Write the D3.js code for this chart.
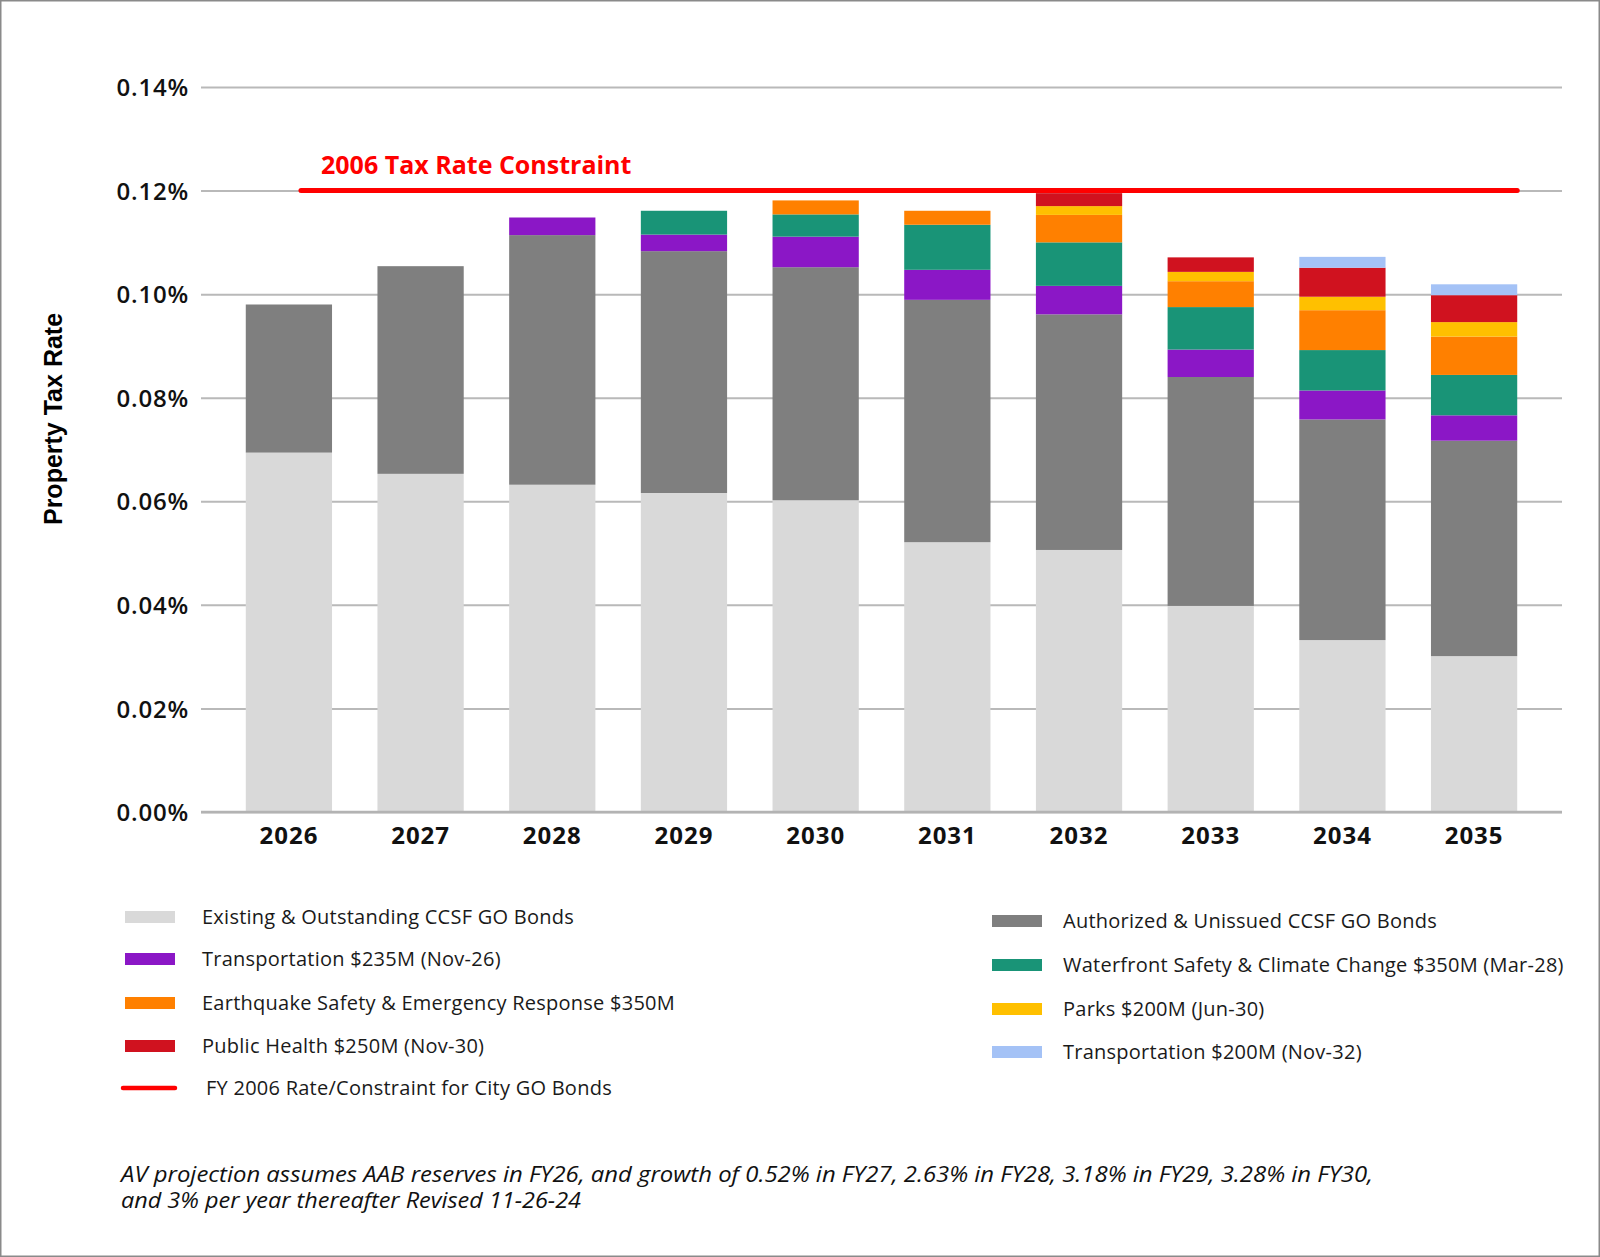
<!DOCTYPE html>
<html>
<head>
<meta charset="utf-8">
<script src="https://cdn.jsdelivr.net/npm/d3@7"></script>
<style>
  body { margin: 0; background: #fff; }
  svg { display: block; }
</style>
</head>
<body>
<div id="chart"></div>
<script>
// data (property tax rate, in percent)
var years = ["2026", "2027", "2028", "2029", "2030", "2031", "2032", "2033", "2034", "2035"];
var existing     = [0.0694, 0.0653, 0.0632, 0.0616, 0.0602, 0.0521, 0.0506, 0.0398, 0.0332, 0.0301];
var authorized   = [0.0286, 0.0401, 0.0482, 0.0467, 0.0450, 0.0468, 0.0455, 0.0442, 0.0426, 0.0416];
var transport235 = [0, 0, 0.0034, 0.0032, 0.0059, 0.0058, 0.0055, 0.0053, 0.0056, 0.0049];
var waterfront   = [0, 0, 0, 0.0046, 0.0043, 0.0087, 0.0084, 0.0082, 0.0078, 0.0078];
var earthquake   = [0, 0, 0, 0, 0.0027, 0.0027, 0.0053, 0.0050, 0.0077, 0.0074];
var parks        = [0, 0, 0, 0, 0, 0, 0.0017, 0.0018, 0.0026, 0.0028];
var publicHealth = [0, 0, 0, 0, 0, 0, 0.0025, 0.0028, 0.0056, 0.0052];
var transport200 = [0, 0, 0, 0, 0, 0, 0, 0, 0.0021, 0.0021];
var constraint = 0.12;
var yTicks = [0, 0.02, 0.04, 0.06, 0.08, 0.10, 0.12, 0.14];

var series = [
  {key: "existing", name: "Existing & Outstanding CCSF GO Bonds", values: existing, color: "#d9d9d9"},
  {key: "authorized", name: "Authorized & Unissued CCSF GO Bonds", values: authorized, color: "#7f7f7f"},
  {key: "transport235", name: "Transportation $235M (Nov-26)", values: transport235, color: "#8b17c6"},
  {key: "waterfront", name: "Waterfront Safety & Climate Change $350M (Mar-28)", values: waterfront, color: "#199477"},
  {key: "earthquake", name: "Earthquake Safety & Emergency Response $350M", values: earthquake, color: "#ff8000"},
  {key: "parks", name: "Parks $200M (Jun-30)", values: parks, color: "#ffc000"},
  {key: "publicHealth", name: "Public Health $250M (Nov-30)", values: publicHealth, color: "#d0121f"},
  {key: "transport200", name: "Transportation $200M (Nov-32)", values: transport200, color: "#a4c2f6"}
];

var W = 1600, H = 1257;
var plotLeft = 201, plotRight = 1562, plotTop = 87, plotBottom = 812;
var FONT = "'Open Sans', sans-serif";

var svg = d3.select("#chart").append("svg")
  .attr("width", W)
  .attr("height", H)
  .style("font-family", FONT);

// frame
svg.append("rect")
  .attr("x", 0.75).attr("y", 0.75)
  .attr("width", W - 1.5).attr("height", H - 1.5)
  .attr("fill", "#fff")
  .attr("stroke", "#8a8a8a")
  .attr("stroke-width", 1.5);

var x = d3.scaleBand()
  .domain(years)
  .range([plotLeft, plotRight])
  .paddingInner(0.345)
  .paddingOuter(0.34);

var y = d3.scaleLinear()
  .domain([0, 0.14])
  .range([plotBottom, plotTop]);

// y axis with gridlines
var yAxis = d3.axisLeft(y)
  .tickValues(yTicks)
  .tickSize(-(plotRight - plotLeft))
  .tickPadding(12)
  .tickFormat(function(d) { return d.toFixed(2) + "%"; });

var gy = svg.append("g")
  .attr("transform", "translate(" + plotLeft + ",0)")
  .call(yAxis)
  .attr("font-family", FONT);
gy.select(".domain").remove();
gy.selectAll(".tick line")
  .attr("stroke", "#b9b9b9")
  .attr("stroke-width", 2);
gy.selectAll(".tick text")
  .attr("fill", "#111")
  .attr("dy", "0.36em")
  .style("font-size", "24px")
  .style("font-weight", 600)
  .style("letter-spacing", "0.8px");

// stacked bars
var rows = years.map(function(yr, i) {
  var r = {year: yr};
  series.forEach(function(s) { r[s.key] = s.values[i]; });
  return r;
});
var stack = d3.stack().keys(series.map(function(s) { return s.key; }));
var stacked = stack(rows);

svg.append("g").selectAll("g")
  .data(stacked)
  .enter().append("g")
  .attr("fill", function(d, i) { return series[i].color; })
  .selectAll("rect")
  .data(function(d) { return d.filter(function(p) { return p[1] - p[0] > 0; }); })
  .enter().append("rect")
  .attr("x", function(d) { return x(d.data.year); })
  .attr("width", x.bandwidth())
  .attr("y", function(d) { return y(d[1]); })
  .attr("height", function(d) { return y(d[0]) - y(d[1]); });

// baseline
svg.append("line")
  .attr("x1", plotLeft).attr("x2", plotRight)
  .attr("y1", y(0)).attr("y2", y(0))
  .attr("stroke", "#b3b3b3")
  .attr("stroke-width", 2.5);

// x axis labels
var xAxis = d3.axisBottom(x).tickSize(0).tickPadding(15);
var gx = svg.append("g")
  .attr("transform", "translate(0," + y(0) + ")")
  .call(xAxis)
  .attr("font-family", FONT);
gx.select(".domain").remove();
gx.selectAll(".tick text")
  .attr("fill", "#111")
  .style("font-size", "24px")
  .style("font-weight", 700)
  .style("letter-spacing", "1px");

// 2006 constraint line
var bw = x.bandwidth();
svg.append("line")
  .attr("x1", x(years[0]) + bw * 0.64)
  .attr("x2", x(years[years.length - 1]) + bw)
  .attr("y1", y(constraint)).attr("y2", y(constraint))
  .attr("stroke", "#ff0000")
  .attr("stroke-width", 5)
  .attr("stroke-linecap", "round");

svg.append("text")
  .attr("x", 321)
  .attr("y", 174)
  .attr("fill", "#ff0000")
  .style("font-size", "25px")
  .style("font-weight", 700)
  .text("2006 Tax Rate Constraint");

// y title
svg.append("text")
  .attr("transform", "translate(62,419) rotate(-90)")
  .attr("text-anchor", "middle")
  .attr("fill", "#000")
  .style("font-family", "'Liberation Sans', Arial, sans-serif")
  .style("font-size", "25px")
  .style("font-weight", 700)
  .text("Property Tax Rate");

// legend
var legLeft = [series[0], series[2], series[4], series[6]];
var legRight = [series[1], series[3], series[5], series[7]];
var rowsLeft = [917, 959, 1003, 1046];
var rowsRight = [921, 965, 1009, 1052];

function legendCol(items, rowsY, sx, tx) {
  var g = svg.append("g").selectAll("g")
    .data(items)
    .enter().append("g")
    .attr("transform", function(d, i) { return "translate(0," + rowsY[i] + ")"; });
  g.append("rect")
    .attr("x", sx).attr("y", -6)
    .attr("width", 50).attr("height", 12)
    .attr("fill", function(d) { return d.color; });
  g.append("text")
    .attr("x", tx)
    .attr("dy", "0.35em")
    .attr("fill", "#1a1a1a")
    .style("font-size", "20px")
    .style("letter-spacing", "0.25px")
    .text(function(d) { return d.name; });
}
legendCol(legLeft, rowsLeft, 125, 202);
legendCol(legRight, rowsRight, 992, 1063);

svg.append("line")
  .attr("x1", 123).attr("x2", 175)
  .attr("y1", 1088).attr("y2", 1088)
  .attr("stroke", "#ff0000")
  .attr("stroke-width", 4.5)
  .attr("stroke-linecap", "round");
svg.append("text")
  .attr("x", 206).attr("y", 1088)
  .attr("dy", "0.35em")
  .attr("fill", "#1a1a1a")
  .style("font-size", "20px")
  .style("letter-spacing", "0.25px")
  .text("FY 2006 Rate/Constraint for City GO Bonds");

// footnote
var notes = [
  {t: "AV projection assumes AAB reserves in FY26, and growth of 0.52% in FY27, 2.63% in FY28, 3.18% in FY29, 3.28% in FY30,", w: 1252},
  {t: "and 3% per year thereafter Revised 11-26-24", w: 460}
];
svg.append("g").selectAll("text")
  .data(notes)
  .enter().append("text")
  .attr("x", 121)
  .attr("y", function(d, i) { return 1182 + i * 25.5; })
  .attr("fill", "#111")
  .attr("textLength", function(d) { return d.w; })
  .attr("lengthAdjust", "spacingAndGlyphs")
  .style("font-size", "21px")
  .style("font-style", "italic")
  .text(function(d) { return d.t; });
</script>
</body>
</html>
